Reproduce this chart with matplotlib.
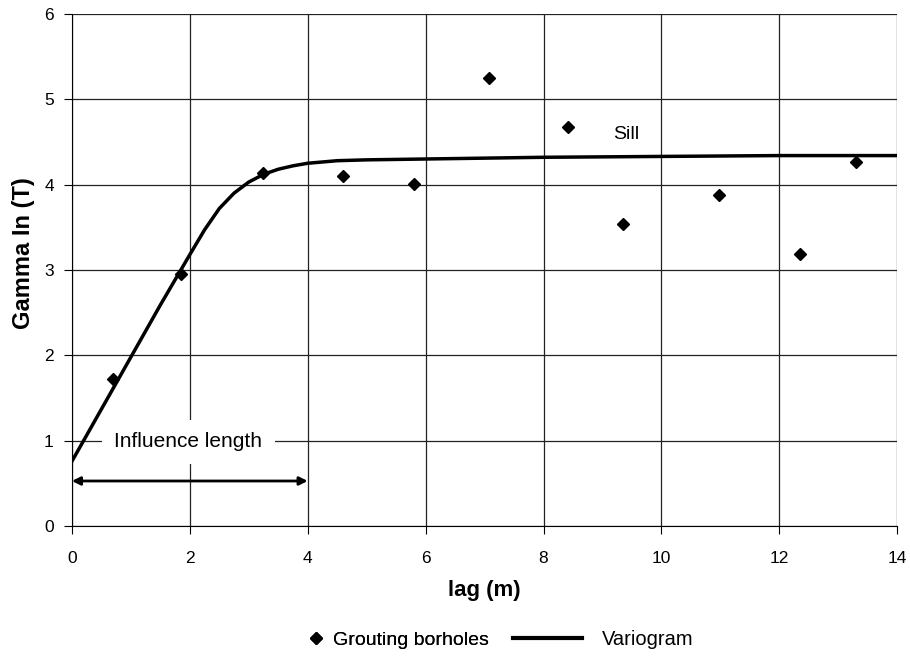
import numpy as np
import matplotlib
matplotlib.use('agg')
import matplotlib.pyplot as plt
from matplotlib.lines import Line2D

plt.rcParams['font.family'] = ['Liberation Sans', 'DejaVu Sans']

# experimental semivariogram (grouting boreholes)
lag = [0.7, 1.85, 3.25, 4.6, 5.8, 7.07, 8.42, 9.35, 10.98, 12.35, 13.3]
gamma = [1.72, 2.95, 4.14, 4.10, 4.01, 5.25, 4.68, 3.54, 3.88, 3.19, 4.27]

# fitted variogram model
vario_lag = [0.0, 0.5, 1.0, 1.5, 2.0, 2.25, 2.5, 2.75, 3.0, 3.25, 3.5, 3.75, 4.0,
             4.5, 5.0, 6.0, 8.0, 10.0, 12.0, 14.0]
vario_gamma = [0.76, 1.37, 1.98, 2.59, 3.18, 3.47, 3.72, 3.90, 4.03, 4.12, 4.18, 4.22, 4.25,
               4.28, 4.29, 4.30, 4.32, 4.33, 4.34, 4.34]

fig = plt.figure(figsize=(9.1, 6.57), dpi=100)
ax = fig.add_axes([0.079, 0.199, 0.907, 0.780])

ax.plot(vario_lag, vario_gamma, color='black', lw=2.5, zorder=3,
        solid_joinstyle='round')
ax.plot(lag, gamma, 'D', color='black', ms=6.5, zorder=4)

ax.set_xlim(0, 14)
ax.set_ylim(0, 6)
ax.set_xticks(range(0, 15, 2))
ax.set_yticks(range(0, 7))
ax.grid(True, color='#222222', lw=0.9)
ax.set_axisbelow(True)
for s in ['top', 'right']:
    ax.spines[s].set_visible(False)
ax.tick_params(direction='out', length=6, labelsize=12.5)
ax.tick_params(axis='x', pad=12)
ax.tick_params(axis='y', pad=7)

ax.set_xlabel('lag (m)', fontsize=16, fontweight='bold', labelpad=10)
ax.set_ylabel('Gamma In (T)', fontsize=17, fontweight='bold')
ax.yaxis.set_label_coords(-0.045, 0.533)

ax.annotate('', xy=(0.0, 0.53), xytext=(4.0, 0.53),
            arrowprops=dict(arrowstyle='<|-|>', color='black', lw=2, mutation_scale=12,
                            shrinkA=0, shrinkB=0), zorder=5)
ax.text(1.97, 0.99, 'Influence length', fontsize=15, ha='center', va='center',
        bbox=dict(facecolor='white', edgecolor='none', pad=9), zorder=2)
ax.text(9.4, 4.59, 'Sill', fontsize=14, ha='center', va='center')

# legend: two parts so each handle gets its own length
leg1 = fig.legend([Line2D([], [], marker='D', color='black', ls='none', ms=6)],
                  ['Grouting borholes'], loc='center', bbox_to_anchor=(0.438, 0.026),
                  frameon=False, fontsize=14, handlelength=0.8, handletextpad=0.5)
leg2 = fig.legend([Line2D([], [], color='black', lw=3)], ['Variogram'], loc='center',
                  bbox_to_anchor=(0.663, 0.026), frameon=False, fontsize=14.5,
                  handlelength=3.4, handletextpad=1.0)
fig.add_artist(leg1)

fig.savefig('out.png', dpi=100)
